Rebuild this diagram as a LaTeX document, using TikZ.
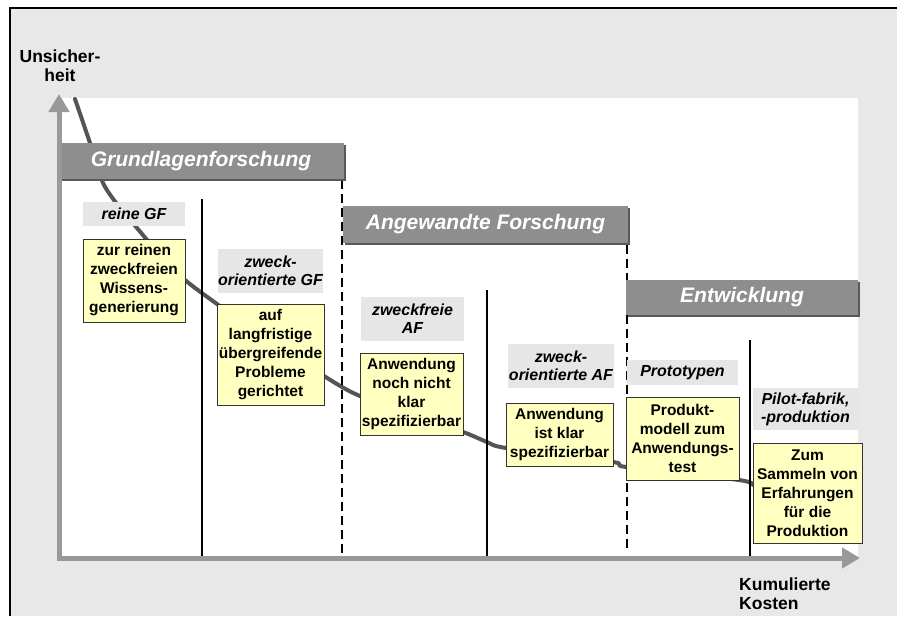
\documentclass[tikz,border=0pt]{standalone}
\usepackage{fontspec}
\setmainfont{Liberation Sans}
\usetikzlibrary{arrows.meta,shadows}
\definecolor{bggray}{HTML}{E8E8E8}
\definecolor{labelgray}{HTML}{E6E6E6}
\definecolor{headgray}{HTML}{8E8E8E}
\definecolor{yellowbox}{HTML}{FFFFC0}
\definecolor{axisgray}{HTML}{999999}
\definecolor{curvegray}{HTML}{555555}
\begin{document}
\begin{tikzpicture}[x=1pt,y=-1pt,
  ybox/.style={draw=black!80, line width=1pt, fill=yellowbox, inner sep=0pt, align=center,
    font=\fontsize{15.5}{19}\selectfont\bfseries},
  lbox/.style={fill=labelgray, inner sep=0pt, align=center,
    font=\fontsize{16}{18}\selectfont\bfseries\itshape},
  hbar/.style={fill=headgray, inner sep=0pt, text=white,
    font=\fontsize{21}{24}\selectfont\bfseries\itshape,
    drop shadow={shadow xshift=2pt, shadow yshift=-2pt, fill=black!65, opacity=1}},
  axislabel/.style={inner sep=0pt, font=\fontsize{17.5}{19}\selectfont\bfseries},
  solidsep/.style={line width=2pt, black},
  dashsep/.style={line width=2.5pt, black, dash pattern=on 9pt off 5pt},
  axis/.style={line width=5pt, axisgray, -{Triangle[length=18pt,width=20pt]}},
  curve/.style={line width=4pt, curvegray, line cap=round, line join=round}
]
\useasboundingbox (0,0) rectangle (897,616);
% background and frame
\fill[bggray] (10,8) rectangle (897,616);
\draw[line width=2.5pt, black] (10,616) -- (10,8) -- (897,8);
\fill[white] (62,98) rectangle (858,556);

% uncertainty curve
\draw[curve] plot[smooth, tension=0.45] coordinates {
  (75,99) (90,143) (103,183) (120,208) (137,228) (160,255) (185,280) (217,304)
  (270,342) (324,376) (342,387) (360,396) (410,415) (463,432) (487,442) (506,448)
  (613,462) (626,467) (739,480) (753,485)};

% separators
\coordinate (s1t) at (202,199); \coordinate (s1b) at (202,556);
\coordinate (s2t) at (487,290); \coordinate (s2b) at (487,558);
\coordinate (s3t) at (750,340); \coordinate (s3b) at (750,560);
\coordinate (d1t) at (342,180); \coordinate (d1b) at (342,557);
\coordinate (d2t) at (627,245); \coordinate (d2b) at (627,552);
\draw[solidsep] (s1t) -- (s1b);
\draw[solidsep] (s2t) -- (s2b);
\draw[solidsep] (s3t) -- (s3b);
\draw[dashsep] (d1t) -- (d1b);
\draw[dashsep] (d2t) -- (d2b);

% header bars
\node[hbar, minimum width=286pt, minimum height=36pt] (h1) at (201,161) {Grundlagenforschung};
\node[hbar, minimum width=285pt, minimum height=37pt] (h2) at (485.5,224.5) {Angewandte Forschung};
\node[hbar, minimum width=232pt, minimum height=35pt] (h3) at (742,297.5) {Entwicklung};

% category labels
\node[lbox, minimum width=102pt, minimum height=24pt] (l1) at (134,214) {reine GF};
\node[lbox, minimum width=105pt, minimum height=44pt] (l2) at (270.5,271) {zweck-\\orientierte GF};
\node[lbox, minimum width=103pt, minimum height=44pt] (l3) at (412.5,319) {zweckfreie\\AF};
\node[lbox, minimum width=106pt, minimum height=44pt] (l4) at (561,366) {zweck-\\orientierte AF};
\node[lbox, minimum width=111pt, minimum height=25pt] (l5) at (682.5,372.5) {Prototypen};
\node[lbox, minimum width=105pt, minimum height=42pt] (l6) at (805.5,409) {Pilot-fabrik,\\-produktion};

% description boxes
\node[ybox, minimum width=102pt, minimum height=83pt] (y1) at (134,280.5) {zur reinen\\zweckfreien\\Wissens-\\generierung};
\node[ybox, minimum width=107pt, minimum height=101pt] (y2) at (270.5,354.5) {auf\\langfristige\\übergreifende\\Probleme\\gerichtet};
\node[ybox, minimum width=103pt, minimum height=82pt] (y3) at (411.5,394) {Anwendung\\noch nicht\\klar\\spezifizierbar};
\node[ybox, minimum width=107pt, minimum height=63pt] (y4) at (559.5,434.5) {Anwendung\\ist klar\\spezifizierbar};
\node[ybox, minimum width=113pt, minimum height=83pt] (y5) at (682.5,438.5) {Produkt-\\modell zum\\Anwendungs-\\test};
\node[ybox, minimum width=109pt, minimum height=100pt] (y6) at (807.5,493) {Zum\\Sammeln von\\Erfahrungen\\für die\\Produktion};

% axes
\coordinate (org) at (59,558);
\coordinate (ytip) at (59,94);
\coordinate (xorg) at (57,558);
\coordinate (xtip) at (860,558);
\draw[axis] (org) -- (ytip);
\draw[axis] (xorg) -- (xtip);

% axis labels
\node[axislabel, align=center] (ylab) at (60,66) {Unsicher-\\heit};
\node[axislabel, align=left, anchor=west] (xlab) at (739,594) {Kumulierte\\Kosten};
\end{tikzpicture}
\end{document}
